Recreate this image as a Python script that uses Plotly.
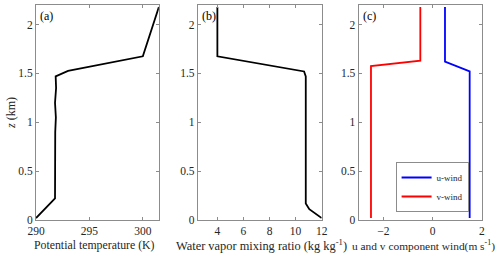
import plotly.graph_objects as go

# Panel (a): potential temperature profile
theta_K = [290.0, 291.45, 291.78, 291.80, 291.86, 291.78, 291.88, 291.84, 293.0, 300.0, 301.5]
theta_z = [0.02, 0.19, 0.22, 0.90, 1.05, 1.20, 1.35, 1.47, 1.525, 1.675, 2.18]

# Panel (b): water vapor mixing ratio profile
qv = [12.0, 11.05, 10.78, 10.78, 10.65, 4.0, 4.0]
qv_z = [0.02, 0.11, 0.17, 1.47, 1.52, 1.675, 2.18]

# Panel (c): wind components
u_wind = [1.5, 1.5, 0.5, 0.5]
u_z = [0.02, 1.52, 1.62, 2.18]
v_wind = [-2.5, -2.5, -0.5, -0.5]
v_z = [0.02, 1.575, 1.63, 2.18]

y_ticks = [0, 0.5, 1, 1.5, 2]
y_ticklabels = ["0", "0.5", "1", "1.5", "2"]

x_titles = ["Potential temperature (K)",
            "Water vapor mixing ratio (kg kg<sup>-1</sup>)",
            "u and v component wind(m s<sup>-1</sup>)"]
panel_labels = ["(a)", "(b)", "(c)"]

W, H = 500, 258
L, R, T, B = 36, 17.5, 5, 38
pw = W - L - R
ph = H - T - B

def dom(a, b):
    return [(a - L) / pw, (b - L) / pw]

FONT = "Liberation Serif"
AX = "#8c8c8c"
TXT = "#262626"

fig = go.Figure()
fig.add_trace(go.Scatter(x=theta_K, y=theta_z, mode="lines", line=dict(color="black", width=1.8),
                         xaxis="x", yaxis="y", showlegend=False))
fig.add_trace(go.Scatter(x=qv, y=qv_z, mode="lines", line=dict(color="black", width=1.8),
                         xaxis="x2", yaxis="y2", showlegend=False))
fig.add_trace(go.Scatter(x=u_wind, y=u_z, mode="lines", name="u-wind", line=dict(color="#0000ff", width=1.8),
                         xaxis="x3", yaxis="y3"))
fig.add_trace(go.Scatter(x=v_wind, y=v_z, mode="lines", name="v-wind", line=dict(color="#ff0000", width=1.8),
                         xaxis="x3", yaxis="y3"))

common = dict(showgrid=False, zeroline=False, showline=True, linecolor=AX, linewidth=1,
              mirror="ticks", ticks="inside", ticklen=3, tickcolor=AX,
              tickfont=dict(family=FONT, size=11.5, color=TXT))

xt = dict(family=FONT, size=12, color=TXT)
fig.update_layout(
    width=W, height=H, margin=dict(l=L, r=R, t=T, b=B),
    paper_bgcolor="white", plot_bgcolor="white",
    font=dict(family=FONT, size=11, color=TXT),
    xaxis=dict(domain=dom(36, 159), range=[290, 301.5], tickvals=[290, 295, 300], **common),
    xaxis2=dict(domain=dom(198, 322), range=[2.5, 12], tickvals=[4, 6, 8, 10, 12],
                anchor="y2", **common),
    xaxis3=dict(domain=dom(359, 482.5), range=[-3, 2], tickvals=[-2, 0, 2],
                anchor="y3", **common),
    yaxis=dict(domain=[0, 1], range=[0, 2.2], tickvals=y_ticks, ticktext=y_ticklabels,
               title=dict(text="<i>z</i> (km)", font=xt, standoff=0), **common),
    yaxis2=dict(domain=[0, 1], range=[0, 2.2], tickvals=y_ticks, ticktext=y_ticklabels,
                anchor="x2", **common),
    yaxis3=dict(domain=[0, 1], range=[0, 2.2], tickvals=y_ticks, ticktext=y_ticklabels,
                anchor="x3", **common),
    legend=dict(x=(396 - L) / pw, y=(220 - 212) / ph, xanchor="left", yanchor="bottom",
                bgcolor="white", bordercolor=AX, borderwidth=1,
                font=dict(family=FONT, size=9, color=TXT),
                itemwidth=30, tracegroupgap=0),
)

title_sizes = [11.8, 12.4, 11.4]
title_centers = [95, 262, 424]
for i, (lab, ttl) in enumerate(zip(panel_labels, x_titles)):
    ax = "x" if i == 0 else f"x{i+1}"
    fig.add_annotation(text=lab, xref=f"{ax} domain", yref="paper", x=0.02, y=0.99,
                       xanchor="left", yanchor="top", showarrow=False,
                       font=dict(family=FONT, size=12, color="black"))
    fig.add_annotation(text=ttl, xref="paper", yref="paper",
                       x=(title_centers[i] - L) / pw, y=(220 - 245) / ph,
                       xanchor="center", yanchor="middle", showarrow=False,
                       font=dict(family=FONT, size=title_sizes[i], color=TXT))

fig.write_html("out.html", config={"displayModeBar": False},
               post_script="document.body.style.margin='0px';document.body.style.overflow='hidden';")
